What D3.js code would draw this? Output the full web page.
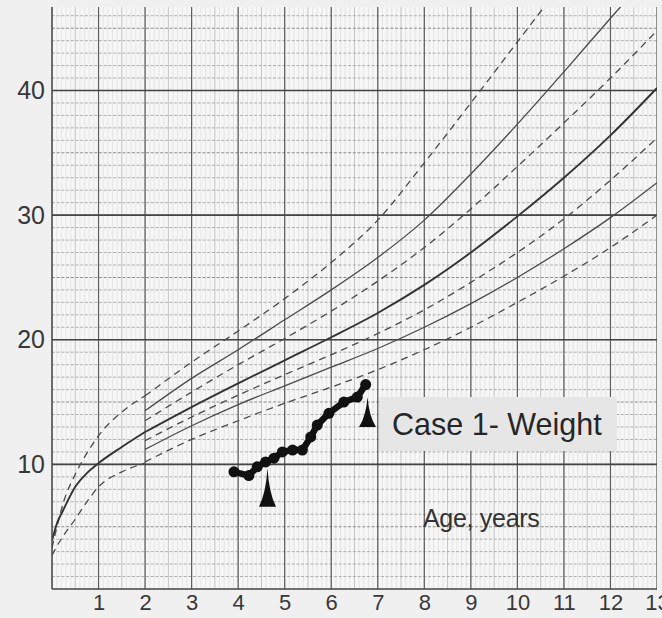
<!DOCTYPE html>
<html>
<head>
<meta charset="utf-8">
<script src="https://cdn.jsdelivr.net/npm/d3@7"></script>
<style>
  html, body { margin: 0; padding: 0; background: #f0f0f0; }
  svg { display: block; }
</style>
</head>
<body>
<svg id="chart" width="662" height="618"></svg>
<script>
// percentile curves, 2..13 years (kg)
const ages = [2, 3, 4, 5, 6, 7, 8, 9, 10, 11, 12, 13];
const p97 = [15.5, 18.2, 20.7, 23.3, 26.2, 29.6, 34.2, 39.0, 43.9, 48.8, 53.8, 58.8];
const p90 = [14.3, 16.9, 19.2, 21.6, 24.0, 26.6, 29.6, 33.3, 37.3, 41.5, 45.8, 50.0];
const p75 = [13.5, 15.8, 18.0, 20.1, 22.3, 24.7, 27.4, 30.5, 33.9, 37.4, 41.0, 44.8];
const p50 = [12.6, 14.6, 16.5, 18.35, 20.2, 22.15, 24.4, 27.0, 29.9, 33.0, 36.4, 40.2];
const p25 = [11.9, 13.8, 15.55, 17.2, 18.8, 20.5, 22.4, 24.6, 27.0, 29.7, 32.8, 36.2];
const p10 = [11.2, 13.1, 14.8, 16.3, 17.8, 19.3, 21.0, 22.9, 25.0, 27.3, 29.8, 32.6];
const p3 = [10.2, 12.0, 13.5, 14.9, 16.2, 17.6, 19.2, 21.0, 23.0, 25.1, 27.4, 30.0];

// infant curves, 0..2 years
const infantAges = [0, 0.1, 0.25, 0.5, 0.75, 1, 1.5, 2];
const infantUpper = [3.3, 4.9, 7.0, 9.2, 10.9, 12.3, 14.2, 15.5];
const infantMid = [3.9, 5.2, 6.4, 8.2, 9.3, 10.1, 11.4, 12.6];
const infantLower = [2.7, 3.4, 4.3, 5.6, 7.0, 8.2, 9.4, 10.1];

// the patient
const caseAges = [3.91, 4.23, 4.41, 4.59, 4.77, 4.95, 5.17, 5.38, 5.56, 5.70, 5.95, 6.27, 6.56, 6.74];
const caseWeights = [9.4, 9.1, 9.8, 10.2, 10.5, 11.0, 11.15, 11.15, 12.2, 13.15, 14.1, 15.0, 15.4, 16.4];

// arrow markers: age, tip weight, base weight
const arrowAges = [4.63, 6.78];
const arrowTips = [9.7, 15.4];
const arrowBases = [6.6, 13.0];

const xTicks = [1, 2, 3, 4, 5, 6, 7, 8, 9, 10, 11, 12, 13];
const yTicks = [10, 20, 30, 40];

const svg = d3.select("#chart");
const plotLeft = 52, plotTop = 7, plotRight = 657, plotBottom = 589;

const x = d3.scaleLinear().domain([0, 13]).range([plotLeft, plotRight]);
const y = d3.scaleLinear().domain([0, 46.7]).range([plotBottom, plotTop]);

svg.append("defs").append("clipPath").attr("id", "plot")
  .append("rect").attr("x", plotLeft).attr("y", plotTop)
  .attr("width", plotRight - plotLeft).attr("height", plotBottom - plotTop);

svg.append("rect").attr("x", plotLeft).attr("y", plotTop)
  .attr("width", plotRight - plotLeft).attr("height", plotBottom - plotTop)
  .attr("fill", "#f6f6f6");

const grid = svg.append("g").attr("clip-path", "url(#plot)");

// fine vertical hatching
grid.append("g").selectAll("line")
  .data(d3.range(0, 131).map(d => d / 10))
  .join("line")
  .attr("x1", d => x(d)).attr("x2", d => x(d))
  .attr("y1", plotTop).attr("y2", plotBottom)
  .attr("stroke", d => (Math.round(d * 10) % 5 === 0) ? "#b8b8b8" : "#dadada")
  .attr("stroke-width", d => (Math.round(d * 10) % 5 === 0) ? 0.8 : 0.6);

// horizontal kg lines
grid.append("g").selectAll("line")
  .data(d3.range(1, 47))
  .join("line")
  .attr("x1", plotLeft).attr("x2", plotRight)
  .attr("y1", d => y(d)).attr("y2", d => y(d))
  .attr("stroke", d => d % 5 === 0 ? "#8c8c8c" : "#a6a6a6")
  .attr("stroke-width", d => d % 5 === 0 ? 1.1 : 0.9)
  .attr("stroke-dasharray", "3,1.7");

// year lines
grid.append("g").selectAll("line")
  .data(d3.range(1, 14))
  .join("line")
  .attr("x1", d => x(d)).attr("x2", d => x(d))
  .attr("y1", plotTop).attr("y2", plotBottom)
  .attr("stroke", "#5e5e5e").attr("stroke-width", 1.2);

// 10 kg lines
grid.append("g").selectAll("line")
  .data(yTicks)
  .join("line")
  .attr("x1", plotLeft).attr("x2", plotRight)
  .attr("y1", d => y(d)).attr("y2", d => y(d))
  .attr("stroke", "#444").attr("stroke-width", 1.7);

// frame
svg.append("line").attr("x1", plotLeft).attr("x2", plotLeft).attr("y1", plotTop).attr("y2", plotBottom)
  .attr("stroke", "#444").attr("stroke-width", 1.5);
svg.append("line").attr("x1", plotLeft).attr("x2", plotRight).attr("y1", plotBottom).attr("y2", plotBottom)
  .attr("stroke", "#444").attr("stroke-width", 1.5);

// percentile curves
const line = d3.line().x(d => x(d[0])).y(d => y(d[1])).curve(d3.curveMonotoneX);
const curves = grid.append("g").attr("fill", "none");

const series = [
  { ages: ages, vals: p97, dash: true },
  { ages: ages, vals: p90, dash: false },
  { ages: ages, vals: p75, dash: true },
  { ages: ages, vals: p50, dash: false, bold: true },
  { ages: ages, vals: p25, dash: true },
  { ages: ages, vals: p10, dash: false },
  { ages: ages, vals: p3, dash: true },
  { ages: infantAges, vals: infantUpper, dash: true },
  { ages: infantAges, vals: infantMid, dash: false, bold: true },
  { ages: infantAges, vals: infantLower, dash: true }
];

curves.selectAll("path")
  .data(series)
  .join("path")
  .attr("d", s => line(s.ages.map((a, i) => [a, s.vals[i]])))
  .attr("stroke", s => s.bold ? "#333" : "#4a4a4a")
  .attr("stroke-width", s => s.bold ? 1.9 : 1.3)
  .attr("stroke-dasharray", s => s.dash ? "7,5" : null);

// patient line
const caseData = caseAges.map((a, i) => [a, caseWeights[i]]);
svg.append("path")
  .attr("d", d3.line().x(d => x(d[0])).y(d => y(d[1]))(caseData))
  .attr("fill", "none").attr("stroke", "#111")
  .attr("stroke-width", 6.5).attr("stroke-linejoin", "round").attr("stroke-linecap", "round");
svg.append("g").selectAll("circle")
  .data(caseData)
  .join("circle")
  .attr("cx", d => x(d[0])).attr("cy", d => y(d[1]))
  .attr("r", 5.5).attr("fill", "#111");

// arrowheads
svg.append("g").selectAll("path")
  .data(arrowAges.map((a, i) => ({ age: a, tip: arrowTips[i], base: arrowBases[i] })))
  .join("path")
  .attr("d", d => {
    const cx = x(d.age), ty = y(d.tip), by = y(d.base);
    const h = by - ty;
    return `M${cx},${ty} Q${cx - 1.5},${ty + h * 0.65} ${cx - 8.5},${by} L${cx + 8.5},${by} Q${cx + 1.5},${ty + h * 0.65} ${cx},${ty} Z`;
  })
  .attr("fill", "#111");

// label box
svg.append("rect").attr("x", 379).attr("y", 397).attr("width", 238).attr("height", 54)
  .attr("fill", "#e6e6e6");
svg.append("text").attr("x", 392).attr("y", 435)
  .attr("font-family", "Liberation Sans, Arial, sans-serif").attr("font-size", 30.5)
  .attr("fill", "#262626").text("Case 1- Weight");

svg.append("text").attr("x", 423).attr("y", 527)
  .attr("font-family", "Liberation Sans, Arial, sans-serif").attr("font-size", 25)
  .attr("letter-spacing", -0.3)
  .attr("fill", "#333").text("Age, years");

// axes (labels only)
const xAxis = svg.append("g").attr("transform", `translate(0,${plotBottom})`)
  .call(d3.axisBottom(x).tickValues(xTicks).tickSize(0).tickPadding(5).tickFormat(d3.format("d")));
const yAxis = svg.append("g").attr("transform", `translate(${plotLeft},0)`)
  .call(d3.axisLeft(y).tickValues(yTicks).tickSize(0).tickPadding(7));
[xAxis, yAxis].forEach(g => {
  g.select(".domain").remove();
  g.selectAll("text").attr("font-family", "Liberation Sans, Arial, sans-serif").attr("fill", "#383838");
});
xAxis.selectAll("text").attr("font-size", 22);
yAxis.selectAll("text").attr("font-size", 25);
</script>
</body>
</html>
